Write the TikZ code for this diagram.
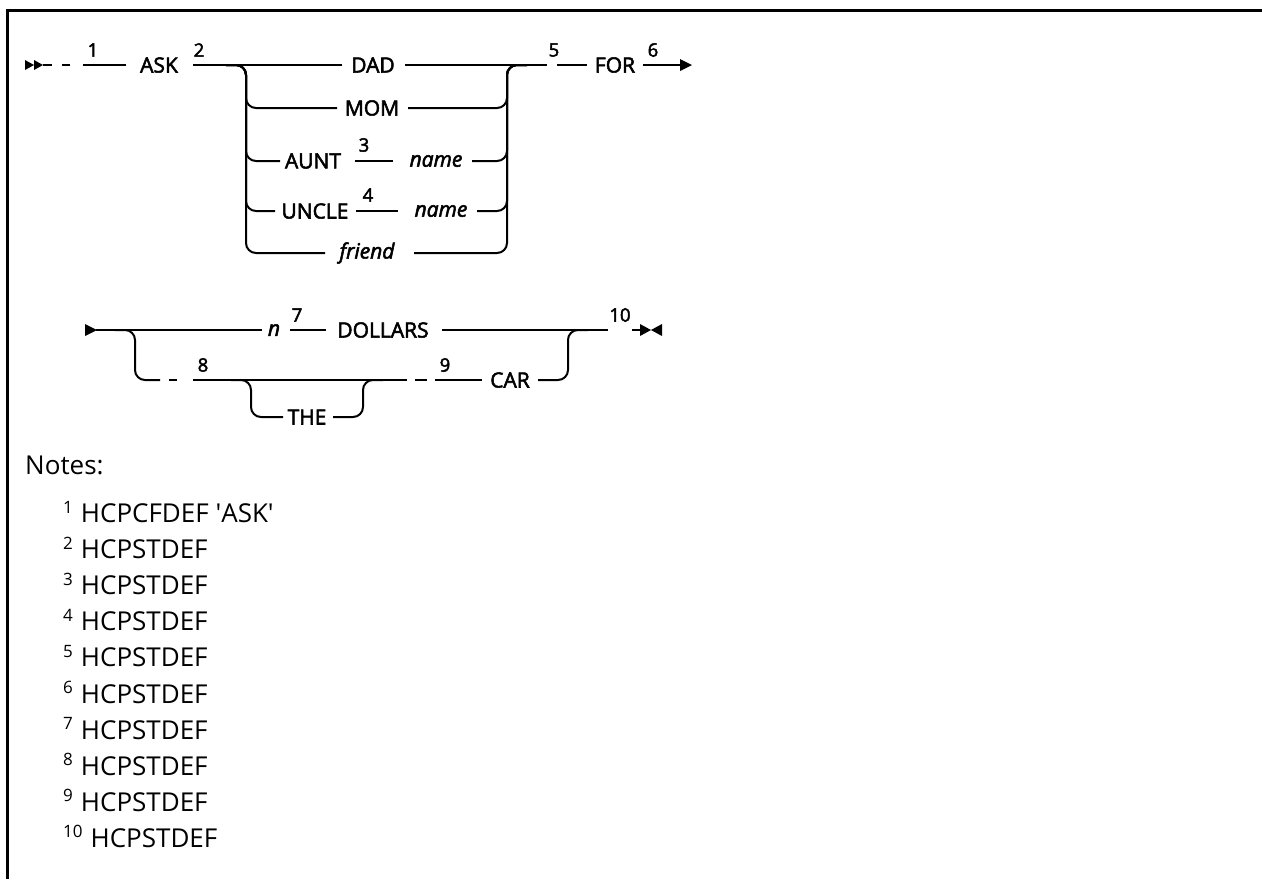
\documentclass[tikz,border=0pt]{standalone}
\usepackage{fontspec}
\setmainfont{Open Sans}
\newfontfamily\lblfont{Open Sans}[FakeBold=2.5]
\newcommand\notesup[1]{\raisebox{9.5pt}{\fontsize{17}{17}\selectfont #1}\hspace{8pt}}
\begin{document}
\begin{tikzpicture}[x=1pt,y=-1pt,
  lbl/.style={font=\lblfont\fontsize{21}{24}\selectfont, inner sep=0pt},
  var/.style={font=\lblfont\itshape\fontsize{21}{24}\selectfont, inner sep=0pt},
  num/.style={font=\lblfont\fontsize{18.5}{20}\selectfont, inner sep=0pt},
  note/.style={font=\fontsize{26}{30}\selectfont, inner sep=0pt, anchor=base west},
  rr/.style={line width=2pt},
  rc/.style={line width=2pt, rounded corners=10pt},
  frame/.style={line width=2.6pt}]
\useasboundingbox (0,0) rectangle (1262,879);
% frame
\draw[frame] (7.3,879) -- (7.3,10.5) -- (1262,10.5);

% ---------- row 1 ----------
\fill (25,60) -- (34,65) -- (25,70) -- cycle;
\fill (34,60) -- (43,65) -- (34,70) -- cycle;
\draw[rr] (43,65) -- (52,65);
\draw[rr] (62,65) -- (70,65);
\draw[rr] (83,65) -- (126,65);
\node[num] (n1) at (93,50) {1};
\node[lbl] (ask) at (159,65) {ASK};
\node[num] (n2) at (199,50) {2};
\draw[rr] (193,65) -- (342,65);
\node[lbl] (dad) at (373,65) {DAD};
\draw[rr] (405,65) -- (547,65);
\node[num] (n5) at (554,50) {5};
\draw[rr] (557,65) -- (587,65);
\node[lbl] (for) at (615,65) {FOR};
\node[num] (n6) at (653,50) {6};
\draw[rr] (643,65) -- (682,65);
\fill (680,59) -- (692,65) -- (680,71) -- cycle;

% MOM
\draw[rc] (226,65) -- (246,65) -- (246,108) -- (337,108);
\node[lbl] (mom) at (372,108) {MOM};
\draw[rc] (408,108) -- (507,108) -- (507,65) -- (527,65);
% AUNT
\draw[rc] (226,65) -- (246,65) -- (246,161) -- (280,161);
\node[lbl] (aunt) at (313,161) {AUNT};
\node[num] (n3) at (364,145) {3};
\draw[rr] (355,161) -- (393,161);
\node[var] (name1) at (436,161) {name};
\draw[rc] (472,161) -- (507,161) -- (507,65) -- (527,65);
% UNCLE
\draw[rc] (226,65) -- (246,65) -- (246,211) -- (275,211);
\node[lbl] (uncle) at (315,211) {UNCLE};
\node[num] (n4) at (368,195) {4};
\draw[rr] (356,211) -- (398,211);
\node[var] (name2) at (441,211) {name};
\draw[rc] (477,211) -- (507,211) -- (507,65) -- (527,65);
% friend
\draw[rc] (226,65) -- (246,65) -- (246,253) -- (325,253);
\node[var] (friend) at (367,253) {friend};
\draw[rc] (414,253) -- (507,253) -- (507,65) -- (527,65);

% ---------- row 2 ----------
\fill (85,324) -- (97,330) -- (85,336) -- cycle;
\draw[rr] (96,330) -- (262,330);
\node[var] (nvar) at (274,330) {n};
\node[num] (n7) at (297,315) {7};
\draw[rr] (290,330) -- (326,330);
\node[lbl] (dollars) at (383,330) {DOLLARS};
\draw[rr] (442,330) -- (608,330);
\node[num] (n10) at (620,315) {10};
\draw[rr] (632,330) -- (641,330);
\fill (640,324) -- (651,330) -- (640,336) -- cycle;
\fill (662,324) -- (651,330) -- (662,336) -- cycle;

% lower branch
\draw[rc] (115,330) -- (135,330) -- (135,380) -- (160,380);
\draw[rr] (169,380) -- (177,380);
\draw[rr] (193,380) -- (407,380);
\node[num] (n8) at (203,365) {8};
% THE loop
\draw[rc] (231,380) -- (251,380) -- (251,417) -- (283,417);
\node[lbl] (the) at (307,417) {THE};
\draw[rc] (333,417) -- (363,417) -- (363,380) -- (383,380);
\draw[rr] (415,380) -- (427,380);
\draw[rr] (435,380) -- (482,380);
\node[num] (n9) at (445,365) {9};
\node[lbl] (car) at (510,380) {CAR};
\draw[rc] (538,380) -- (568,380) -- (568,330) -- (588,330);

% ---------- notes ----------
\node[note] (notes) at (25,474) {Notes:};
\node[note] (note1) at (63,522.5) {\notesup{1}HCPCFDEF \textquotesingle ASK\textquotesingle};
\node[note] (note2) at (63,558.6) {\notesup{2}HCPSTDEF};
\node[note] (note3) at (63,594.7) {\notesup{3}HCPSTDEF};
\node[note] (note4) at (63,630.8) {\notesup{4}HCPSTDEF};
\node[note] (note5) at (63,666.9) {\notesup{5}HCPSTDEF};
\node[note] (note6) at (63,703.0) {\notesup{6}HCPSTDEF};
\node[note] (note7) at (63,739.1) {\notesup{7}HCPSTDEF};
\node[note] (note8) at (63,775.2) {\notesup{8}HCPSTDEF};
\node[note] (note9) at (63,811.3) {\notesup{9}HCPSTDEF};
\node[note] (note10) at (63,847.4) {\notesup{10}HCPSTDEF};
\end{tikzpicture}
\end{document}
